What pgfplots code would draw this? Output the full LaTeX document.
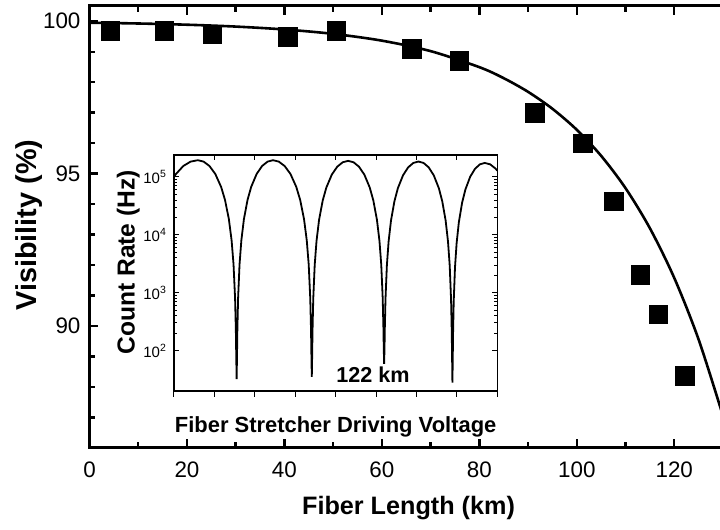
\documentclass[border=0pt]{standalone}
\usepackage{fontspec}
\setmainfont{Liberation Sans}
\usepackage{pgfplots}
\pgfplotsset{compat=1.18}

\begin{document}
\begin{tikzpicture}
\begin{axis}[
  name=main,
  scale only axis,
  width=316.75pt, height=221pt,
  xmin=0, xmax=130, ymin=86, ymax=100.5,
  xtick={0,20,...,120}, minor xtick={10,30,...,130},
  ytick={90,95,100}, minor ytick={87,88,89,91,92,93,94,96,97,98,99},
  xtick pos=both, ytick pos=left,
  tick align=inside,
  major tick length=4.5pt, minor tick length=2.8pt,
  tick style={black, line width=1.2pt},
  axis line style={line width=1.5pt},
  ticklabel style={font=\fontsize{11.2}{13}\selectfont},
  /pgf/number format/assume math mode=true,
  yticklabel style={xshift=-1pt},
  xticklabel style={yshift=-3.3pt},
  xlabel={Fiber Length (km)},
  ylabel={Visibility (\%)},
  xlabel style={font=\fontsize{12.6}{14}\selectfont\bfseries,
    at={(axis description cs:0.5036,-0.0932)}, anchor=north},
  ylabel style={font=\fontsize{14.4}{16}\selectfont\bfseries,
    at={(axis description cs:-0.063,0.5045)}, anchor=south},
]
% fit
\addplot[black, line width=1.3pt, smooth] coordinates {
  (0,99.952) (10,99.926) (20,99.886) (30,99.825) (40,99.730) (50,99.586)
  (60,99.363) (70,99.02) (80,98.494) (85,98.132) (90,97.684) (95,97.128)
  (100,96.439) (105,95.584) (110,94.524) (115,93.209) (120,91.579)
  (125,89.558) (130,87.051)
};
% measured
\addplot[only marks, mark=square*, mark size=4.6pt,
  mark options={fill=black, draw=black, line width=0.3pt}] coordinates {
  (4.31,99.68) (15.35,99.68) (25.2,99.57) (40.7,99.49) (50.6,99.69)
  (66.1,99.09) (75.9,98.70) (91.4,96.99) (101.2,96.0) (107.6,94.09)
  (113.0,91.68) (116.7,90.38) (122.2,88.37)
};
\end{axis}

% inset
\begin{axis}[
  at={(main.south west)}, anchor=south west, xshift=42.25pt, yshift=28.5pt,
  scale only axis, width=161.65pt, height=118pt,
  xmin=0, xmax=8, ymode=log, ymin=20, ymax=2.4e5,
  xtick={0,...,8}, xticklabels={}, xtick pos=right,
  ytick={100,1000,10000,100000},
  yticklabels={10\textsuperscript{2},10\textsuperscript{3},10\textsuperscript{4},10\textsuperscript{5}},
  ytick pos=both, tick align=inside,
  major tick length=2.5pt, minor tick length=1.5pt,
  axis line style={line width=0.6pt}, tick style={black, line width=0.5pt},
  yticklabel style={font=\fontsize{7.5}{9}\selectfont},
  ylabel={Count Rate (Hz)},
  ylabel style={font=\fontsize{12.3}{14}\selectfont\bfseries,
    at={(axis description cs:-0.0845,0.545)}, anchor=south},
  xlabel={Fiber Stretcher Driving Voltage},
  xlabel style={font=\fontsize{10.97}{13}\selectfont\bfseries,
    at={(axis description cs:0.5,-0.0784)}, anchor=north},
]
\addplot[black, line width=0.9pt] coordinates {
  (0,100000) (0.05,112800) (0.23,154800) (0.41,184400) (0.59,195000)
  (0.734,184400) (0.878,154800) (1.022,112800) (1.166,67400) (1.262,40220)
  (1.358,18650) (1.4252,8051) (1.4732,3095) (1.5116,801) (1.5308,224)
  (1.5404,80) (1.55,32)
  (1.559,80) (1.568,224) (1.586,801) (1.622,3095) (1.667,8051) (1.73,18650)
  (1.82,40220) (1.91,67400) (2.045,112800) (2.18,154800) (2.315,184400)
  (2.45,195000)
  (2.594,184400) (2.738,154800) (2.882,112800) (3.026,67400) (3.122,40220)
  (3.218,18650) (3.2852,8054) (3.3332,3098) (3.3716,804) (3.3908,227)
  (3.4004,83) (3.41,35)
  (3.419,82) (3.428,222) (3.446,784) (3.482,3020) (3.527,7850) (3.59,18180)
  (3.68,39200) (3.77,65640) (3.905,109900) (4.04,150800) (4.175,179700)
  (4.31,190000)
  (4.4435,179700) (4.577,150800) (4.7105,109900) (4.844,65700) (4.933,39220)
  (5.022,18200) (5.0843,7873) (5.1288,3044) (5.1644,808) (5.1822,246)
  (5.1911,106) (5.20,59)
  (5.2085,105) (5.217,242) (5.234,788) (5.268,2965) (5.3105,7667) (5.37,17720)
  (5.455,38190) (5.54,63980) (5.6675,107000) (5.795,146900) (5.9225,174900)
  (6.05,185000)
  (6.176,174900) (6.302,146900) (6.428,107000) (6.554,63940) (6.638,38160)
  (6.722,17690) (6.7808,7636) (6.8228,2934) (6.8564,757) (6.8732,211)
  (6.8816,74) (6.89,28)
  (6.898,71) (6.906,201) (6.922,718) (6.954,2777) (6.994,7225) (7.05,16740)
  (7.13,36100) (7.21,60490) (7.33,101200) (7.45,138900) (7.57,165500)
  (7.69,175000)
  (7.825,165500) (7.96,138900) (8.0,128600)
};
\node[font=\fontsize{10.8}{12}\selectfont\bfseries] at (rel axis cs:0.6155,0.068) {122 km};
\end{axis}

% bottom ticks of the inset point outwards
\begin{axis}[
  at={(main.south west)}, anchor=south west, xshift=42.25pt, yshift=28.5pt,
  scale only axis, width=161.65pt, height=118pt,
  xmin=0, xmax=8, ymin=0, ymax=1,
  xtick={0,...,8}, xticklabels={}, xtick pos=left, tick align=outside,
  ytick=\empty,
  major tick length=3pt,
  axis line style={line width=0.6pt}, tick style={black, line width=0.5pt},
]
\end{axis}

\pgfresetboundingbox
\path[use as bounding box] ([shift={(-44.75pt,-41pt)}]main.south west)
  rectangle ([shift={(315.25pt,224pt)}]main.south west);
\end{tikzpicture}
\end{document}
